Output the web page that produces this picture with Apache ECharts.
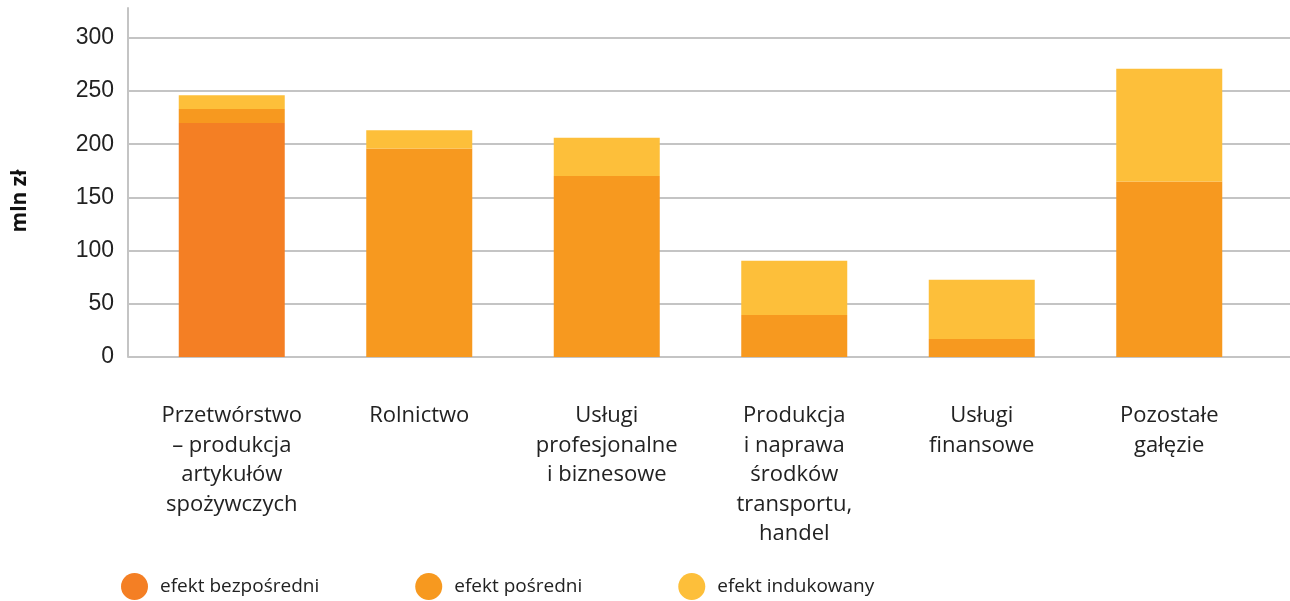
<!DOCTYPE html>
<html>
<head>
<meta charset="utf-8">
<script src="https://cdn.jsdelivr.net/npm/echarts@6/dist/echarts.min.js"></script>
<style>
html,body{margin:0;padding:0;background:#fff;}
#chart{width:1290px;height:601px;}
</style>
</head>
<body>
<div id="chart"></div>
<script>
const categories = [
  "Przetwórstwo\n– produkcja\nartykułów\nspożywczych",
  "Rolnictwo",
  "Usługi\nprofesjonalne\ni biznesowe",
  "Produkcja\ni naprawa\nśrodków\ntransportu,\nhandel",
  "Usługi\nfinansowe",
  "Pozostałe\ngałęzie"
];
const seriesNames = ["efekt bezpośredni", "efekt pośredni", "efekt indukowany"];
const direct = [220, 0, 0, 0, 0, 0];
const indirect = [13, 196, 170, 39.5, 17, 165];
const induced = [13, 17, 36, 51, 55.5, 106];
const yTicks = [0, 50, 100, 150, 200, 250, 300];
const yTitle = "mln zł";

const colors = ["#F47F24", "#F7991F", "#FDBF3A"];
const yMax = 328;

const chart = echarts.init(document.getElementById('chart'));
const dataSets = [direct, indirect, induced];

chart.setOption({
  animation: false,
  backgroundColor: '#ffffff',
  grid: [
    {left: 128, right: 0, top: 8, bottom: 244, containLabel: false},
    {left: 138, right: 27, top: 8, bottom: 244, containLabel: false}
  ],
  legend: {
    left: 116, top: 568,
    itemWidth: 27, itemHeight: 27, itemGap: 96,
    icon: 'circle',
    data: seriesNames,
    textStyle: {fontFamily: '"Open Sans"', fontSize: 19, color: '#222', padding: [0,0,0,7]}
  },
  graphic: [{
    type: 'text',
    x: 20, y: 201,
    rotation: Math.PI / 2,
    style: {text: yTitle, font: 'bold 21px "Open Sans", sans-serif', fill: '#111', align: 'center', verticalAlign: 'middle'}
  }],
  xAxis: [
    {gridIndex: 0, type: 'value', min: 0, max: 1, show: false},
    {
      gridIndex: 1, type: 'category', data: categories,
      axisLine: {show: false}, axisTick: {show: false},
      axisLabel: {margin: 44, fontFamily: '"Open Sans"', fontSize: 22, lineHeight: 29.5, color: '#222', interval: 0}
    }
  ],
  yAxis: [
    {
      gridIndex: 0, type: 'value', min: 0, max: yMax, interval: 50,
      axisLine: {show: true, lineStyle: {color: '#c4c4c4', width: 2}},
      axisTick: {show: false},
      axisLabel: {
        margin: 14, fontFamily: '"Liberation Sans", Arial, sans-serif', fontSize: 23, color: '#222',
        showMaxLabel: false,
        formatter: v => yTicks.includes(v) ? String(v) : ''
      },
      splitLine: {show: true, showMaxLine: false, lineStyle: {color: '#c4c4c4', width: 2}}
    },
    {gridIndex: 1, type: 'value', min: 0, max: yMax, show: false, splitLine: {show: false}}
  ],
  series: seriesNames.map((name, i) => ({
    name: name,
    type: 'bar',
    stack: 'total',
    xAxisIndex: 1, yAxisIndex: 1,
    barWidth: 106,
    itemStyle: {color: colors[i]},
    data: dataSets[i].map(v => v === 0 ? '-' : v)
  }))
});
</script>
</body>
</html>
